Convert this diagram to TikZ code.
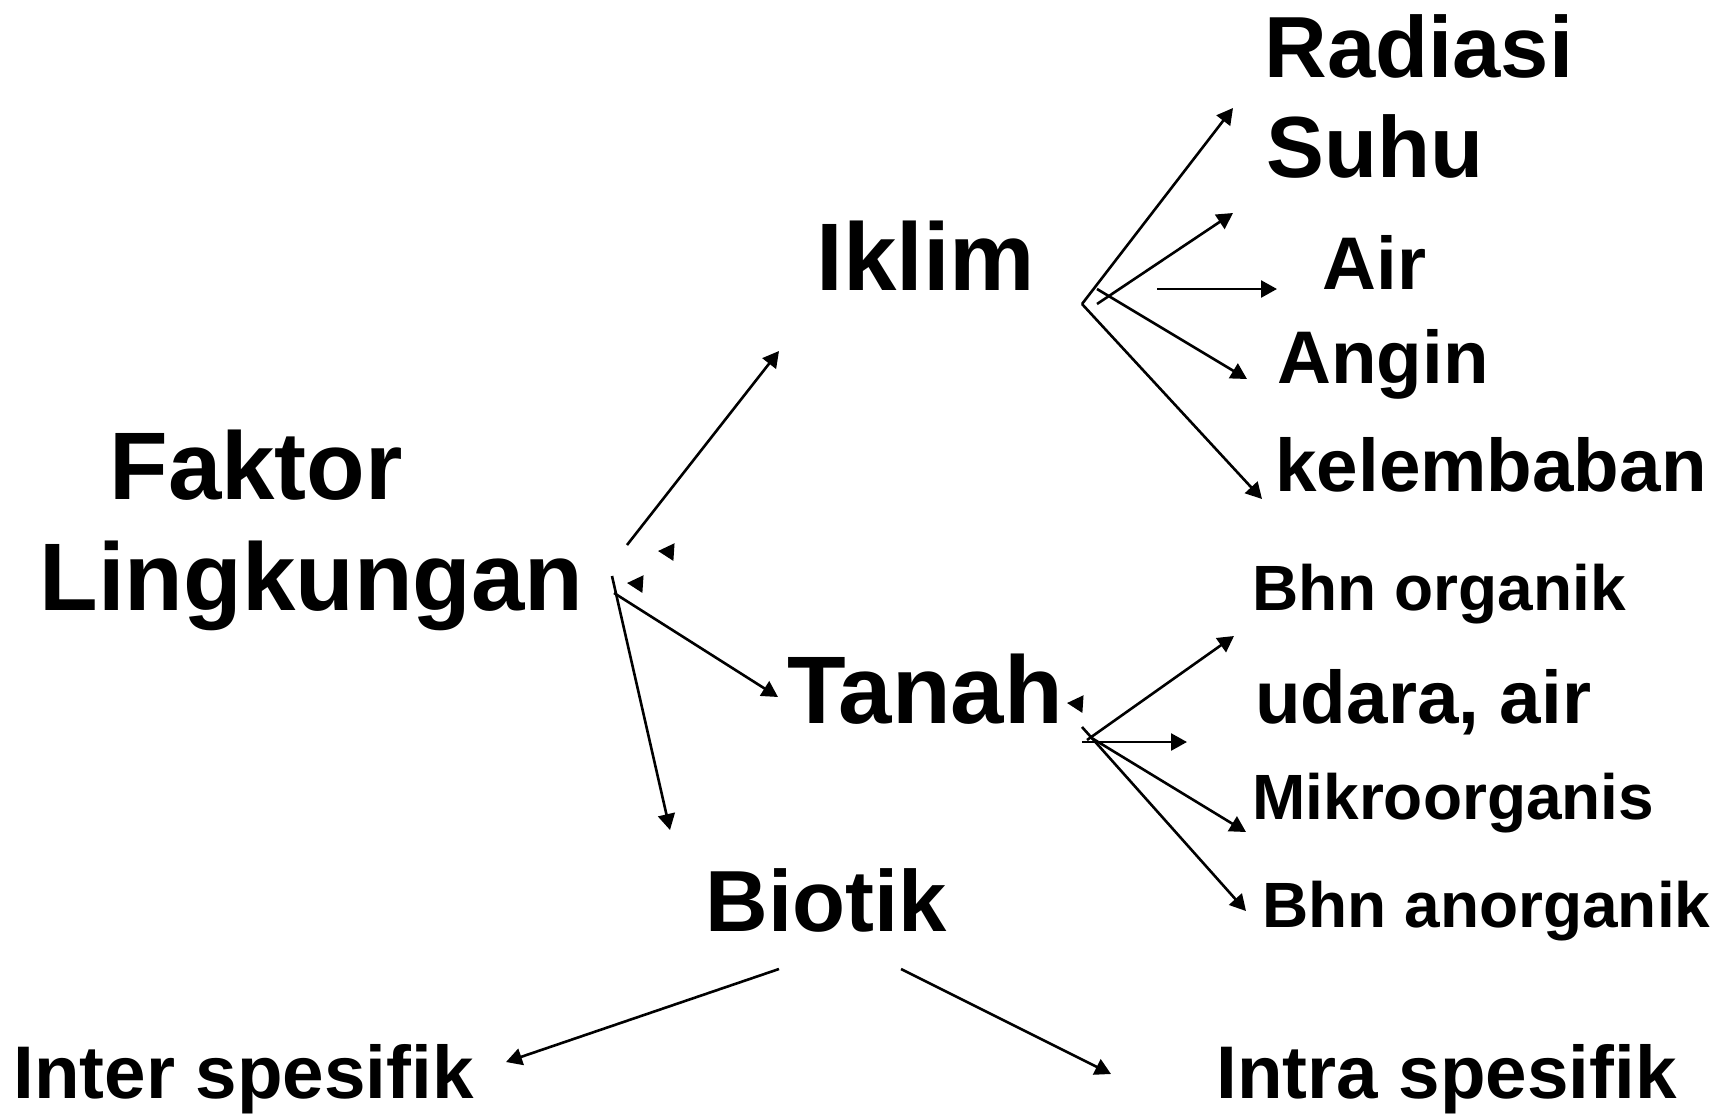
\documentclass[tikz,border=0pt]{standalone}
\usepackage{fontspec}
\setmainfont{Liberation Sans}
\usetikzlibrary{arrows.meta}
\begin{document}
\begin{tikzpicture}[x=0.5pt,y=-0.5pt,
  lbl/.style={anchor=base west,inner sep=0pt,font=\bfseries},
  huge/.style={lbl,font=\fontsize{48}{48}\selectfont\bfseries},
  big/.style={lbl,font=\fontsize{43.4}{43.4}\selectfont\bfseries},
  mid/.style={lbl,font=\fontsize{37.3}{37.3}\selectfont\bfseries},
  sml/.style={lbl,font=\fontsize{32}{32}\selectfont\bfseries},
  arr/.style={line width=1.3pt,-{Triangle[length=8pt,width=8.5pt]}},
  ln/.style={line width=1.3pt}]
\useasboundingbox (0,0) rectangle (1731,1115);
% labels
\node[huge] (faktor) at (109,499) {Faktor};
\node[huge] (lingk) at (39,610) {Lingkungan};
\node[huge] (iklim) at (816,290) {Iklim};
\node[huge] (tanah) at (787,723) {Tanah};
\node[big] (biotik) at (705,931) {Biotik};
\node[big] (radiasi) at (1264,77) {Radiasi};
\node[big] (suhu) at (1266,177) {Suhu};
\node[mid] (air) at (1322,289) {Air};
\node[mid] (angin) at (1277,383) {Angin};
\node[mid] (kelem) at (1275,491) {kelembaban};
\node[sml] (bhnorg) at (1252,610) {Bhn organik};
\node[mid] (udara) at (1255,723) {udara, air};
\node[sml] (mikro) at (1252,819) {Mikroorganis};
\node[sml] (bhnanorg) at (1262,927) {Bhn anorganik};
\node[mid] (inter) at (13,1098) {Inter spesifik};
\node[mid] (intra) at (1216,1098) {Intra spesifik};
% coordinates
\coordinate (f1) at (627,545);
\coordinate (f1e) at (779,351);
\coordinate (f2) at (612,576);
\coordinate (f2e) at (670,830);
\coordinate (f3) at (614,593);
\coordinate (f3e) at (778,697);
\coordinate (s1) at (673,552);
\coordinate (s1e) at (658,551);
\coordinate (s2) at (642,584);
\coordinate (s2e) at (627,583);
\coordinate (s3) at (1082,704);
\coordinate (s3e) at (1067,703);
% Iklim fan
\coordinate (iv) at (1082,304);
\coordinate (i1e) at (1233,108);
\coordinate (i5e) at (1262,499);
\coordinate (i2) at (1097,304);
\coordinate (i2e) at (1233,213);
\coordinate (i3) at (1157,289);
\coordinate (i3e) at (1277,289);
\coordinate (i4) at (1097,289);
\coordinate (i4e) at (1247,379);
% Tanah fan
\coordinate (t1) at (1087,740);
\coordinate (t1e) at (1234,636);
\coordinate (t2) at (1082,742);
\coordinate (t2e) at (1187,742);
\coordinate (t3) at (1090,737);
\coordinate (t3e) at (1246,832);
\coordinate (t4) at (1082,727);
\coordinate (t4e) at (1246,911);
% Biotik
\coordinate (b1) at (779,969);
\coordinate (b1e) at (506,1062);
\coordinate (b2) at (901,969);
\coordinate (b2e) at (1111,1074);
% arrows
\draw[arr] (f1) -- (f1e);
\draw[arr] (f2) -- (f2e);
\draw[arr] (f3) -- (f3e);
\draw[arr] (s1) -- (s1e);
\draw[arr] (s2) -- (s2e);
\draw[arr] (s3) -- (s3e);
\draw[arr] (iv) -- (i1e);
\draw[arr] (iv) -- (i5e);
\draw[arr] (i2) -- (i2e);
\draw[arr] (i3) -- (i3e);
\draw[arr] (i4) -- (i4e);
\draw[arr] (t1) -- (t1e);
\draw[arr] (t2) -- (t2e);
\draw[arr] (t3) -- (t3e);
\draw[arr] (t4) -- (t4e);
\draw[arr] (b1) -- (b1e);
\draw[arr] (b2) -- (b2e);
\end{tikzpicture}
\end{document}
